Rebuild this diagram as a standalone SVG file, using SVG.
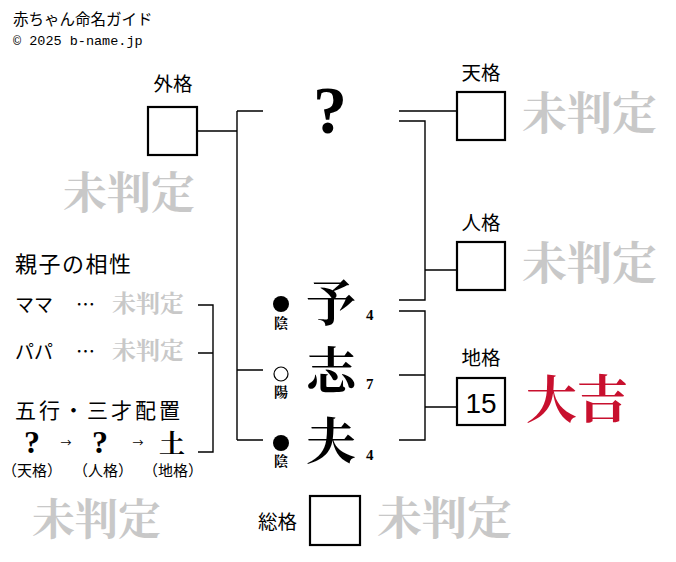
<svg xmlns="http://www.w3.org/2000/svg" width="676" height="562" viewBox="0 0 676 562">
<style>
.g{font-family:"Noto Sans CJK JP","Noto Sans",sans-serif;fill:#000}
.lbl{font-family:"Noto Sans CJK JP",sans-serif;font-size:19.5px;text-anchor:middle}
.box{fill:#fff;stroke:#000;stroke-width:2.2}
.con{fill:none;stroke:#000;stroke-width:1.4}
.mi{font-family:"Noto Serif CJK JP","Noto Serif CJK SC","Noto Sans CJK JP",serif;font-weight:700;fill:#c8c8c8}
.kan{font-family:"Noto Serif CJK JP","Noto Serif CJK SC","Noto Sans CJK JP",serif;font-weight:700;fill:#000;text-anchor:middle}
.kichi{font-family:"Noto Serif CJK JP","Noto Sans CJK JP",serif;font-weight:700;fill:#c8102e}
.q{font-family:"Liberation Serif",serif;font-weight:700;fill:#000;text-anchor:middle}
.num{font-family:"Liberation Serif",serif;font-weight:700;font-size:15px;fill:#000}
.yy{font-family:"Noto Serif CJK JP","Noto Sans CJK JP",serif;font-weight:700;font-size:14px;text-anchor:middle}
.sub{font-family:"Noto Sans CJK JP",sans-serif;font-size:15px;text-anchor:middle}
</style>
<g id="header">
<text class="g" x="13" y="25" font-size="15.5">赤ちゃん命名ガイド</text>
<text x="13" y="45" font-family="Liberation Mono,monospace" font-size="13.5">© 2025 b-name.jp</text>
</g>
<g id="connectors">
<path class="con" d="M197 131H237M237 111V440M237 111H263M237 370H263M237 440H263"/>
<path class="con" d="M399 111H457M399 121H425V300H399M425 270H457"/>
<path class="con" d="M399 311H425V440H399M399 375H425M425 407H457"/>
<path class="con" d="M198 305H213V452H198M198 353H213"/>
</g>
<g id="gaikaku">
<text class="lbl" x="173" y="91">外格</text>
<rect class="box" x="148" y="107" width="49" height="48"/>
<text class="mi" x="63" y="209" font-size="44">未判定</text>
</g>
<g id="tenkaku">
<text class="lbl" x="481" y="80">天格</text>
<rect class="box" x="457" y="92" width="48" height="48"/>
<text class="mi" x="522" y="130" font-size="45">未判定</text>
</g>
<g id="jinkaku">
<text class="lbl" x="481" y="230">人格</text>
<rect class="box" x="457" y="242" width="48" height="48"/>
<text class="mi" x="522" y="280" font-size="45">未判定</text>
</g>
<g id="chikaku">
<text class="lbl" x="481" y="365">地格</text>
<rect class="box" x="457" y="378" width="48" height="47"/>
<text x="481" y="413" font-family="Liberation Sans,sans-serif" font-size="28" text-anchor="middle">15</text>
<text class="kichi" x="526" y="418" font-size="51">大吉</text>
</g>
<g id="soukaku">
<text class="g" x="258" y="529" font-size="19.5">総格</text>
<rect class="box" x="310" y="496" width="50" height="49"/>
<text class="mi" x="377" y="535" font-size="45">未判定</text>
</g>
<g id="name">
<text class="q" x="330" y="133" font-size="68">?</text>
<text class="kan" x="331" y="321" font-size="50">予</text>
<text class="kan" x="331" y="389" font-size="50">志</text>
<text class="kan" x="331" y="459" font-size="50">夫</text>
<text class="num" x="366" y="320">4</text>
<text class="num" x="366" y="389">7</text>
<text class="num" x="366" y="460">4</text>
<circle cx="281" cy="304" r="8"/>
<text class="yy" x="281" y="328">陰</text>
<circle cx="281" cy="374" r="7" fill="none" stroke="#000" stroke-width="1.2"/>
<text class="yy" x="281" y="397">陽</text>
<circle cx="281" cy="443" r="8"/>
<text class="yy" x="281" y="466">陰</text>
</g>
<g id="aishou">
<text class="g" x="15" y="272" font-size="22" letter-spacing="1.5">親子の相性</text>
<text class="g" x="15" y="312" font-size="19">ママ</text>
<text class="g" x="76" y="312" font-size="19">…</text>
<text class="mi" x="112" y="312" font-size="24">未判定</text>
<text class="g" x="15" y="359" font-size="19">パパ</text>
<text class="g" x="76" y="359" font-size="19">…</text>
<text class="mi" x="112" y="359" font-size="24">未判定</text>
</g>
<g id="gogyou">
<text class="g" x="15" y="418" font-size="21" letter-spacing="3">五行・三才配置</text>
<text class="q" x="32" y="453" font-size="32">?</text>
<text class="g" x="66" y="447" font-size="11" text-anchor="middle">→</text>
<text class="q" x="100" y="453" font-size="32">?</text>
<text class="g" x="138" y="447" font-size="11" text-anchor="middle">→</text>
<text class="kan" x="172" y="453" font-size="26">土</text>
<text class="sub" x="32" y="476">（天格）</text>
<text class="sub" x="103" y="476">（人格）</text>
<text class="sub" x="173" y="476">（地格）</text>
<text class="mi" x="32" y="535" font-size="43">未判定</text>
</g>
</svg>
